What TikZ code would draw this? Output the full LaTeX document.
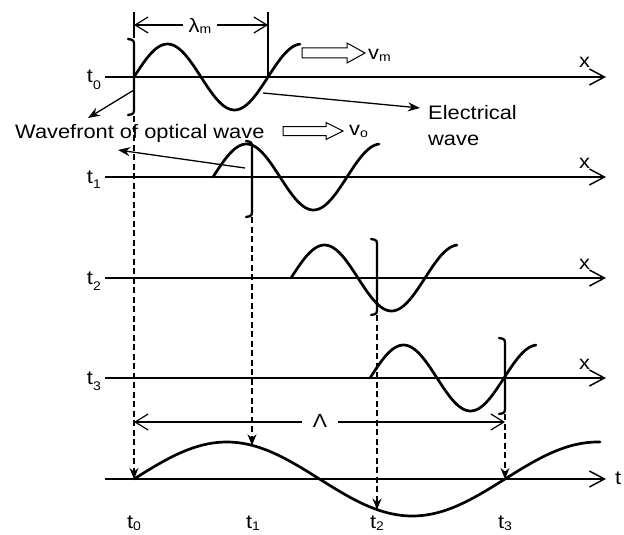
\documentclass[tikz,border=0pt]{standalone}
\usepackage{fontspec}
\setmainfont{Liberation Sans}[FakeStretch=1.12]
\usetikzlibrary{arrows.meta}
\newcommand{\lsub}[2]{\raisebox{-#2pt}{\fontsize{12.5}{13}\selectfont #1}}
\begin{document}
\begin{tikzpicture}[x=1pt,y=-1pt,
  axisline/.style={line width=1.8pt,-{Straight Barb[length=15pt,width=16pt,line width=1.5pt]}},
  waveline/.style={line width=2.7pt,line cap=round},
  frontline/.style={line width=2.3pt,line cap=round},
  thinline/.style={line width=1.1pt},
  dimarrow/.style={line width=1.2pt,-{Straight Barb[length=13pt,width=16pt,line width=1.2pt]}},
  pointer/.style={line width=1.3pt,-{Stealth[length=12pt,width=9pt]}},
  proj/.style={line width=1.6pt,dash pattern=on 6pt off 3.5pt,-{Stealth[length=11pt,width=9pt]}},
  lab/.style={inner sep=0pt,font=\fontsize{19.5}{22}\selectfont},
  hollow/.style={line width=1pt,fill=white,line join=miter},
  wavefront/.pic={\draw[frontline] (-6,-38) .. controls (0,-37) .. (0,-30) -- (0,30) .. controls (0,37) .. (-6,38);}
]
\useasboundingbox (0,0) rectangle (624,535);

% axes
\coordinate (a0s) at (105,77);  \coordinate (a0e) at (606,77);
\coordinate (a1s) at (105,177); \coordinate (a1e) at (606,177);
\coordinate (a2s) at (105,278); \coordinate (a2e) at (606,278);
\coordinate (a3s) at (105,378); \coordinate (a3e) at (606,378);
\coordinate (bs) at (105,479);  \coordinate (be) at (606,479);
\draw[axisline] (a0s) -- (a0e);
\draw[axisline] (a1s) -- (a1e);
\draw[axisline] (a2s) -- (a2e);
\draw[axisline] (a3s) -- (a3e);
\draw[axisline] (bs) -- (be);

% axis labels
\node[lab,anchor=base east] (lt0) at (101,83) {t\lsub{0}{6}};
\node[lab,anchor=base east] (lt1) at (101,183) {t\lsub{1}{5}};
\node[lab,anchor=base east] (lt2) at (101,284) {t\lsub{2}{6}};
\node[lab,anchor=base east] (lt3) at (101,384) {t\lsub{3}{6}};
\node[lab,anchor=base west] (lx0) at (579,68) {x};
\node[lab,anchor=base west] (lx1) at (579,168) {x};
\node[lab,anchor=base west] (lx2) at (579,269) {x};
\node[lab,anchor=base west] (lx3) at (579,369) {x};
\node[lab,anchor=base west] (lt) at (615,484) {t};

% electrical waves
\draw[waveline] plot[domain=134:300,samples=70,smooth] (\x,{77-33*sin(2.68657*(\x-134))});
\draw[waveline] plot[domain=213:379,samples=70,smooth] (\x,{177-33*sin(2.68657*(\x-213))});
\draw[waveline] plot[domain=291:457,samples=70,smooth] (\x,{278-33*sin(2.68657*(\x-291))});
\draw[waveline] plot[domain=370:536,samples=70,smooth] (\x,{378-33*sin(2.68657*(\x-370))});
% bottom wave
\draw[waveline] plot[domain=134:600,samples=120,smooth] (\x,{479-37*sin(0.970350*(\x-134))});

% wavefronts
\pic at (134,77) {wavefront};
\pic at (252,179) {wavefront};
\pic at (377,277) {wavefront};
\pic at (505,376) {wavefront};

% lambda_m dimension
\coordinate (vl1) at (134,12); \coordinate (vl2) at (134,38);
\coordinate (vr1) at (268,12); \coordinate (vr2) at (268,77);
\draw[thinline] (vl1) -- (vl2);
\draw[thinline] (vr1) -- (vr2);
\node[lab,inner xsep=6pt] (lamm) at (200,26) {λ\lsub{m}{1.5}};
\coordinate (lmL) at (134,25); \coordinate (lmR) at (268,25);
\draw[dimarrow] (lamm.west |- lmL) -- (lmL);
\draw[dimarrow] (lamm.east |- lmR) -- (lmR);

% Lambda dimension
\node[inner xsep=11pt,inner ysep=0pt,font=\fontsize{19}{20}\selectfont] (Lam) at (320,421) {Λ};
\coordinate (LL) at (134,422); \coordinate (LR) at (505,422);
\draw[dimarrow] (Lam.west |- LL) -- (LL);
\draw[dimarrow] (Lam.east |- LR) -- (LR);

% hollow velocity arrows
\draw[hollow] (302,48) -- (347,48) -- (347,43) -- (365,53) -- (347,63) -- (347,58) -- (302,58) -- cycle;
\node[lab,anchor=west] (vm) at (368,55) {v\lsub{m}{2}};
\draw[hollow] (283,126.5) -- (326,126.5) -- (326,122.5) -- (343,131) -- (326,139.5) -- (326,135.5) -- (283,135.5) -- cycle;
\node[lab,anchor=west] (vo) at (349,131) {v\lsub{o}{2}};

% texts
\node[lab,anchor=base west] (el1) at (428,119) {Electrical};
\node[lab,anchor=base west] (el2) at (428,145) {wave};
\node[lab,anchor=base west] (wf) at (15,138) {Wavefront of optical wave};

% pointers
\coordinate (pe1) at (263,93); \coordinate (pe2) at (420,108);
\draw[pointer] (pe1) -- (pe2);
\coordinate (pw1) at (134,90); \coordinate (pw2) at (88,118);
\draw[pointer] (pw1) -- (pw2);
\coordinate (pv1) at (245,168); \coordinate (pv2) at (118,150);
\draw[pointer] (pv1) -- (pv2);

% projections
\coordinate (d0a) at (134,116); \coordinate (d0b) at (134,479);
\coordinate (d1a) at (252,217); \coordinate (d1b) at (252,{479-37*sin(0.970350*(252-134))});
\coordinate (d2a) at (377,315); \coordinate (d2b) at (377,{479-37*sin(0.970350*(377-134))});
\coordinate (d3a) at (505,414); \coordinate (d3b) at (505,479);
\draw[proj] (d0a) -- (d0b);
\draw[proj] (d1a) -- (d1b);
\draw[proj] (d2a) -- (d2b);
\draw[proj] (d3a) -- (d3b);

% bottom labels
\node[lab,anchor=base] (bt0) at (134,528) {t\lsub{0}{2.5}};
\node[lab,anchor=base] (bt1) at (253,528) {t\lsub{1}{2.5}};
\node[lab,anchor=base] (bt2) at (377,528) {t\lsub{2}{2.5}};
\node[lab,anchor=base] (bt3) at (505,528) {t\lsub{3}{2.5}};
\end{tikzpicture}
\end{document}
